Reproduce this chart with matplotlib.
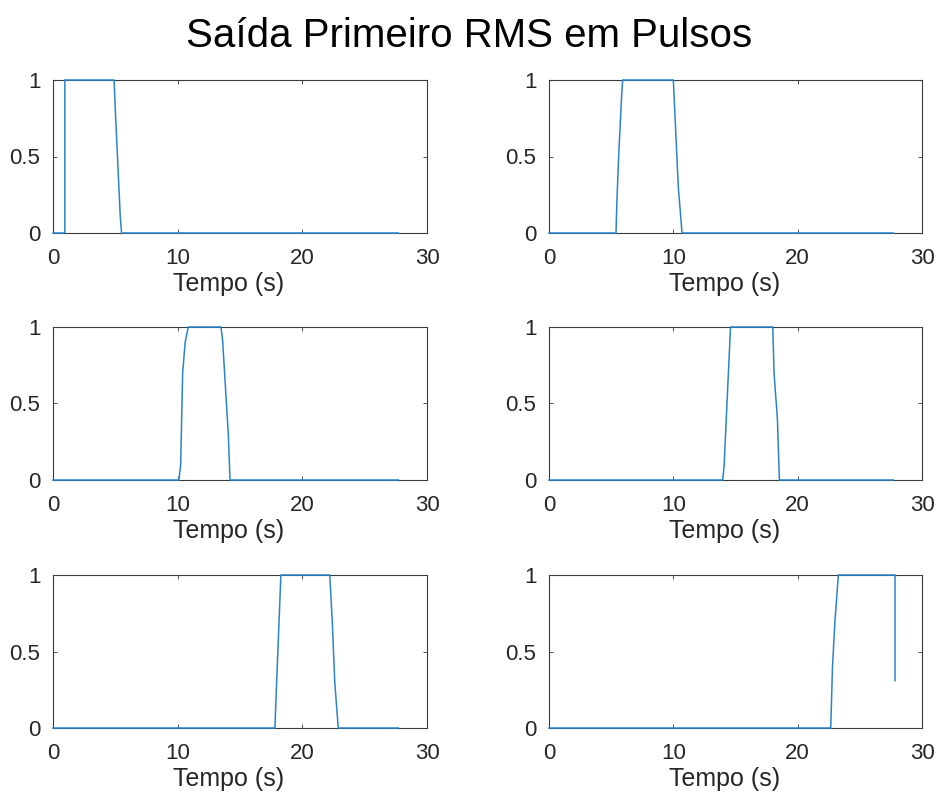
import matplotlib
matplotlib.use("Agg")
import matplotlib.pyplot as plt

plt.rcParams["font.family"] = ["Liberation Sans", "DejaVu Sans"]

# Output of the first RMS stage for each pulse (time in s, normalised level)
t1 = [0, 0.95, 0.95, 4.9, 5.0, 5.4, 5.5, 27.7]
y1 = [0, 0, 1, 1, 0.8, 0.1, 0, 0]

t2 = [0, 5.39, 5.45, 5.6, 5.85, 5.93, 10.0, 10.4, 10.6, 10.7, 27.7]
y2 = [0, 0, 0.18, 0.5, 0.91, 1, 1, 0.3, 0.1, 0, 0]

t3 = [0, 10.1, 10.24, 10.4, 10.6, 10.85, 13.47, 13.6, 14.06, 14.2, 27.7]
y3 = [0, 0, 0.1, 0.7, 0.9, 1, 1, 0.92, 0.3, 0, 0]

t4 = [0, 13.97, 14.08, 14.6, 18.0, 18.1, 18.37, 18.53, 27.7]
y4 = [0, 0, 0.09, 1, 1, 0.7, 0.4, 0, 0]

t5 = [0, 17.8, 17.94, 18.28, 22.2, 22.4, 22.6, 22.88, 27.7]
y5 = [0, 0, 0.3, 1, 1, 0.7, 0.3, 0, 0]

t6 = [0, 22.66, 22.8, 23.0, 23.27, 27.83, 27.83]
y6 = [0, 0, 0.4, 0.7, 1, 1, 0.31]

series = [(t1, y1), (t2, y2), (t3, y3), (t4, y4), (t5, y5), (t6, y6)]

xticks = [0, 10, 20, 30]
yticks = [0, 0.5, 1]
ytick_labels = ["0", "0.5", "1"]

W, H = 939, 796
fig = plt.figure(figsize=(W / 100, H / 100), dpi=100)
fig.text(0.5, 1 - 36 / H, "Saída Primeiro RMS em Pulsos", ha="center", va="center",
         fontsize=29, color="black")

lefts = [53, 549]
widths = [374, 373]
tops = [80, 327, 575]
height = 153
axis_col = "#3a3a3a"

for i, (t, y) in enumerate(series):
    r, c = divmod(i, 2)
    ax = fig.add_axes([lefts[c] / W, 1 - (tops[r] + height) / H, widths[c] / W, height / H])
    ax.plot(t, y, color="#2a84cc", lw=1.1, clip_on=False, zorder=5)
    ax.set_xlim(0, 30)
    ax.set_ylim(0, 1)
    ax.set_xticks(xticks)
    ax.set_yticks(yticks)
    ax.set_yticklabels(ytick_labels)
    ax.tick_params(direction="in", top=True, right=True, labelsize=16,
                   colors=axis_col, labelcolor="#262626", length=3, width=0.6)
    ax.tick_params(axis="y", pad=9)
    ax.tick_params(axis="x", pad=10.5)
    for s in ax.spines.values():
        s.set_color(axis_col)
        s.set_linewidth(0.8)
    ax.set_xlabel("Tempo (s)", fontsize=18, color="#262626")
    ax.xaxis.set_label_coords(0.47, -0.255, transform=ax.transAxes)
    ax.xaxis.label.set_va("top")

fig.savefig("out.png", dpi=100)
